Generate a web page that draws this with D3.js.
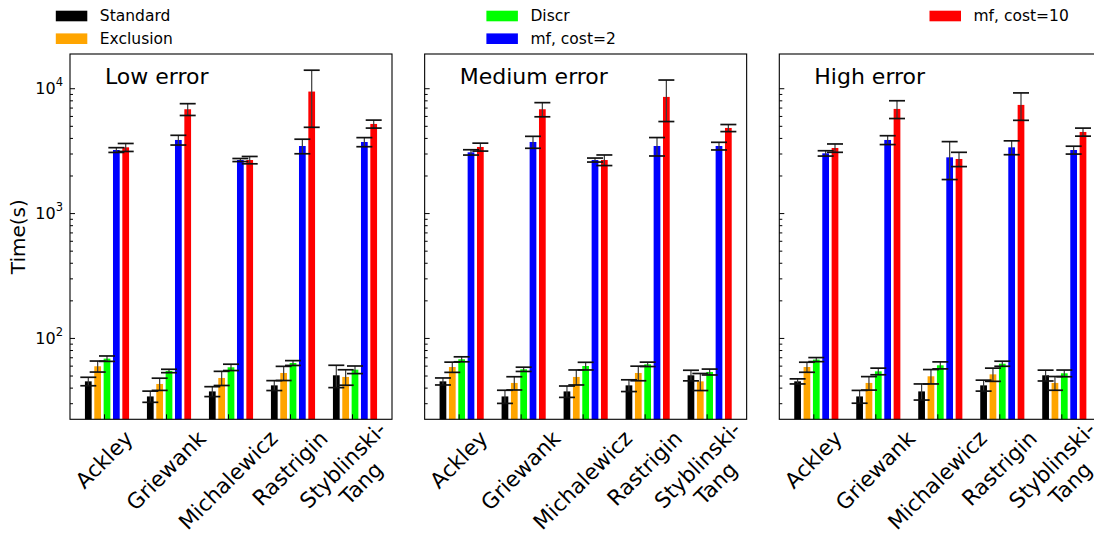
<!DOCTYPE html>
<html>
<head>
<meta charset="utf-8">
<script src="https://cdn.jsdelivr.net/npm/d3@7"></script>
<style>
  body { margin: 0; background: #fff; }
  svg { display: block; font-family: "DejaVu Sans", sans-serif; }
</style>
</head>
<body>
<svg id="chart" width="1094" height="534"></svg>
<script>
// Benchmark functions (x categories) and optimisation variants (series)
const categories = ["Ackley", "Griewank", "Michalewicz", "Rastrigin", "Styblinski-\nTang"];
const seriesNames = ["Standard", "Exclusion", "Discr", "mf, cost=2", "mf, cost=10"];
const seriesColors = ["#000000", "#ffa500", "#00ff00", "#0000ff", "#ff0000"];
const panelTitles = ["Low error", "Medium error", "High error"];

// Mean run time in seconds; rows follow seriesNames, columns follow categories
const lowErrorMeans = [
  [44.9, 34.0, 37.3, 41.7, 50.2],
  [59.3, 42.8, 47.8, 52.4, 48.7],
  [68.3, 54.4, 58.2, 63.0, 55.7],
  [3201, 3852, 2661, 3446, 3711],
  [3363, 6786, 2661, 9404, 5175]
];
const lowErrorStd = [
  [3.5, 3.5, 3.4, 3.8, 10.2],
  [6.0, 4.8, 6.2, 6.8, 6.9],
  [3.4, 1.7, 3.4, 2.8, 3.9],
  [140, 345, 75, 460, 310],
  [247, 735, 180, 4540, 380]
];
const mediumErrorMeans = [
  [44.9, 34.0, 37.3, 41.7, 50.2],
  [58.5, 43.6, 48.7, 52.4, 44.9],
  [67.5, 56.1, 59.6, 61.5, 53.4],
  [3066, 3711, 2661, 3446, 3446],
  [3384, 6786, 2661, 8520, 4807]
];
const mediumErrorStd = [
  [2.9, 4.1, 3.9, 4.5, 4.9],
  [5.5, 5.3, 6.7, 7.0, 7.0],
  [3.1, 2.2, 4.2, 2.5, 2.9],
  [150, 407, 98, 580, 243],
  [247, 880, 259, 3110, 313]
];
const highErrorMeans = [
  [44.9, 34.0, 37.3, 41.7, 50.2],
  [58.5, 43.6, 49.3, 51.1, 43.6],
  [67.1, 54.0, 60.4, 62.2, 52.1],
  [3010, 3852, 2796, 3363, 3201],
  [3322, 6828, 2712, 7352, 4463]
];
const highErrorStd = [
  [2.1, 4.0, 5.5, 4.2, 5.0],
  [5.4, 5.4, 6.5, 6.2, 5.5],
  [2.5, 3.3, 3.9, 2.9, 3.2],
  [148, 314, 940, 428, 232],
  [255, 1110, 355, 1820, 330]
];

const yMajorTicks = [100, 1000, 10000];
const yMinorTicks = [30, 40, 50, 60, 70, 80, 90,
                     200, 300, 400, 500, 600, 700, 800, 900,
                     2000, 3000, 4000, 5000, 6000, 7000, 8000, 9000];
const yDomain = [22.3, 18800];

const panels = [
  { title: panelTitles[0], means: lowErrorMeans, std: lowErrorStd },
  { title: panelTitles[1], means: mediumErrorMeans, std: mediumErrorStd },
  { title: panelTitles[2], means: highErrorMeans, std: highErrorStd }
];

// ---- layout ----
const svg = d3.select("#chart");
const panelW = 322, plotTop = 54, plotBottom = 419.3;
const panelLeft = d3.scaleLinear().domain([0, 2]).range([70, 779.3]);

const y = d3.scaleLog().domain(yDomain).range([plotBottom, plotTop]);
const xGroup = d3.scalePoint().domain(categories).range([37, 285]);
const xTick = d3.scalePoint().domain(categories).range([34, 282]);
const xBar = d3.scaleBand().domain(seriesNames).range([-23.375, 23.375])
  .paddingInner(0.28).paddingOuter(0.14);
const color = d3.scaleOrdinal().domain(seriesNames).range(seriesColors);

panels.forEach((panel, p) => {
  const g = svg.append("g").attr("transform", `translate(${panelLeft(p)},0)`);

  const rows = [];
  seriesNames.forEach((s, si) => {
    categories.forEach((c, ci) => {
      rows.push({ s, c, v: panel.means[si][ci], e: panel.std[si][ci] });
    });
  });

  // bars
  g.selectAll("rect.bar").data(rows).join("rect")
    .attr("class", "bar")
    .attr("x", d => xGroup(d.c) + xBar(d.s))
    .attr("y", d => y(d.v))
    .attr("width", xBar.bandwidth())
    .attr("height", d => y(yDomain[0]) - y(d.v))
    .attr("fill", d => color(d.s));

  // error bars
  const cx = d => xGroup(d.c) + xBar(d.s) + xBar.bandwidth() / 2;
  const eg = g.append("g");
  eg.selectAll("line.stem").data(rows).join("line")
    .attr("x1", cx).attr("x2", cx)
    .attr("y1", d => y(d.v - d.e)).attr("y2", d => y(d.v + d.e))
    .attr("stroke", "#3a3a3a").attr("stroke-width", 1.2);
  const capHalf = 8;
  [-1, 1].forEach(sign => {
    eg.selectAll(null).data(rows).join("line")
      .attr("x1", d => cx(d) - capHalf).attr("x2", d => cx(d) + capHalf)
      .attr("y1", d => y(d.v + sign * d.e)).attr("y2", d => y(d.v + sign * d.e))
      .attr("stroke", "#111").attr("stroke-width", 1.7);
  });

  // y axis: inward major and minor ticks
  const majorAxis = d3.axisLeft(y).tickValues(yMajorTicks).tickSize(-5).tickPadding(7)
    .tickFormat(d => "");
  const ya = g.append("g").call(majorAxis);
  ya.select(".domain").remove();
  ya.selectAll(".tick line").attr("stroke", "#000").attr("stroke-width", 1);
  if (p === 0) {
    ya.selectAll(".tick text").each(function(d) {
      const t = d3.select(this)
        .attr("font-size", 16).attr("fill", "#000")
        .attr("font-family", "DejaVu Sans, sans-serif")
        .attr("dy", "0.32em");
      t.append("tspan").text("10");
      t.append("tspan").attr("font-size", 11.5).attr("dy", "-0.65em")
        .text(Math.round(Math.log10(d)));
    });
  }
  const ym = g.append("g").call(d3.axisLeft(y).tickValues(yMinorTicks).tickSize(-3).tickFormat(""));
  ym.select(".domain").remove();
  ym.selectAll(".tick line").attr("stroke", "#000").attr("stroke-width", 1);

  // x axis: inward ticks, rotated labels
  const xa = g.append("g").attr("transform", `translate(0,${plotBottom})`)
    .call(d3.axisBottom(xTick).tickSize(-5).tickFormat(""));
  xa.select(".domain").remove();
  xa.selectAll(".tick line").attr("stroke", "#000");

  const fs = 21.5, lh = fs * 1.2;
  categories.forEach(c => {
    const lines = c.split("\n");
    const lg = g.append("g");
    const texts = lines.map((ln, i) =>
      lg.append("text")
        .attr("text-anchor", "middle")
        .attr("font-size", fs)
        .attr("y", (i - (lines.length - 1) / 2) * lh)
        .attr("dy", "0.35em")
        .text(ln));
    const maxLen = d3.max(texts, t => t.node().getComputedTextLength());
    const half = (maxLen + lines.length * lh * 0.9) * Math.SQRT1_2 / 2;
    const lift = (lines.length - 1) * -8;
    lg.attr("transform", `translate(${xTick(c)},${plotBottom + 7 + half + lift}) rotate(-45)`);
  });

  // frame
  g.append("rect").attr("x", 0).attr("y", plotTop)
    .attr("width", panelW).attr("height", plotBottom - plotTop)
    .attr("fill", "none").attr("stroke", "#000").attr("stroke-width", 1.1);

  // panel title
  g.append("text").attr("x", 35).attr("y", 84)
    .attr("font-size", 22).text(panel.title);
});

// y axis title
svg.append("text")
  .attr("transform", "translate(24.5,236.7) rotate(-90)")
  .attr("text-anchor", "middle").attr("font-size", 20)
  .text("Time(s)");

// legend: three columns
const legendCols = [55.8, 486.4, 929.5];
const legendRows = [16, 38.7];
seriesNames.forEach((s, i) => {
  const col = Math.floor(i / 2), row = i % 2;
  const lg = svg.append("g")
    .attr("transform", `translate(${legendCols[col]},${legendRows[row]})`);
  lg.append("rect").attr("x", 0).attr("y", -5.3).attr("width", 31.5).attr("height", 10.6)
    .attr("fill", color(s));
  lg.append("text").attr("x", 44).attr("dy", "0.35em").attr("font-size", 15.5).text(s);
});
</script>
</body>
</html>
